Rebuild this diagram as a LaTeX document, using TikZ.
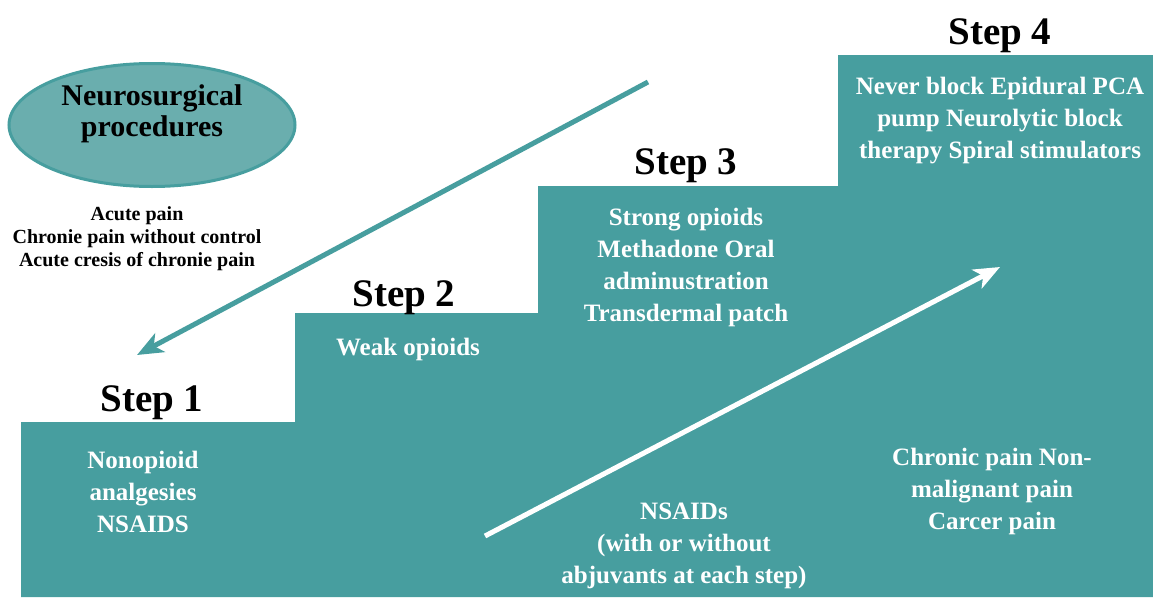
\documentclass[tikz,border=0pt]{standalone}
\usepackage{fontspec}
\setmainfont{Liberation Serif}
\usetikzlibrary{shapes.geometric, arrows.meta}
\definecolor{stairteal}{RGB}{71,158,159}
\definecolor{ovalteal}{RGB}{106,174,174}
\tikzstyle{steplabel} = [font=\fontsize{39}{44}\selectfont\bfseries, text=black]
\tikzstyle{stepbox} = [align=center, font=\fontsize{25}{32}\selectfont\bfseries, text=white]
\tikzstyle{oval} = [ellipse, minimum width=286pt, minimum height=123pt, inner sep=0pt, text depth=29pt, draw=stairteal, line width=3pt, fill=ovalteal, align=center, font=\fontsize{30}{31}\selectfont\bfseries]
\tikzstyle{note} = [align=center, font=\fontsize{20}{23}\selectfont\bfseries]
\tikzstyle{arrow} = [line width=5pt,-{Stealth[length=26pt,width=21pt,inset=7pt]}]

\begin{document}
\begin{tikzpicture}[x=1pt,y=-1pt]
\useasboundingbox (0,0) rectangle (1153,597);

% staircase
\fill[stairteal] (21,597) -- (21,422) -- (295,422) -- (295,313) -- (538,313) -- (538,186)
  -- (838,186) -- (838,55) -- (1153,55) -- (1153,597) -- cycle;

\node (neuro) [oval] at (152,125) {Neurosurgical\\procedures};
\node (indic) [note] at (137,239) {Acute pain\\Chronie pain without control\\Acute cresis of chronie pain};

\node (step1) [steplabel] at (152,403) {Step 1};
\node (step2) [steplabel] at (404,298) {Step 2};
\node (step3) [steplabel] at (686,166) {Step 3};
\node (step4) [steplabel] at (1000,36) {Step 4};

\node (nonop) [stepbox] at (143,492) {Nonopioid\\analgesies\\NSAIDS};
\node (weak) [stepbox] at (408,349) {Weak opioids};
\node (strong) [stepbox] at (686,267) {Strong opioids\\Methadone Oral\\adminustration\\Transdermal patch};
\node (never) [stepbox] at (1000,121) {Never block Epidural PCA\\pump Neurolytic block\\therapy Spiral stimulators};
\node (nsaids) [stepbox] at (684,546) {NSAIDs\\(with or without\\abjuvants at each step)};
\node (chronic) [stepbox] at (992,491) {Chronic pain Non-\\malignant pain\\Carcer pain};

\coordinate (down0) at (648,82);
\coordinate (down1) at (137,355);
\coordinate (up0) at (485,536);
\coordinate (up1) at (1000,267);

\draw [arrow, stairteal] (down0) -- (down1);
\draw [arrow, white] (up0) -- (up1);

\end{tikzpicture}
\end{document}
